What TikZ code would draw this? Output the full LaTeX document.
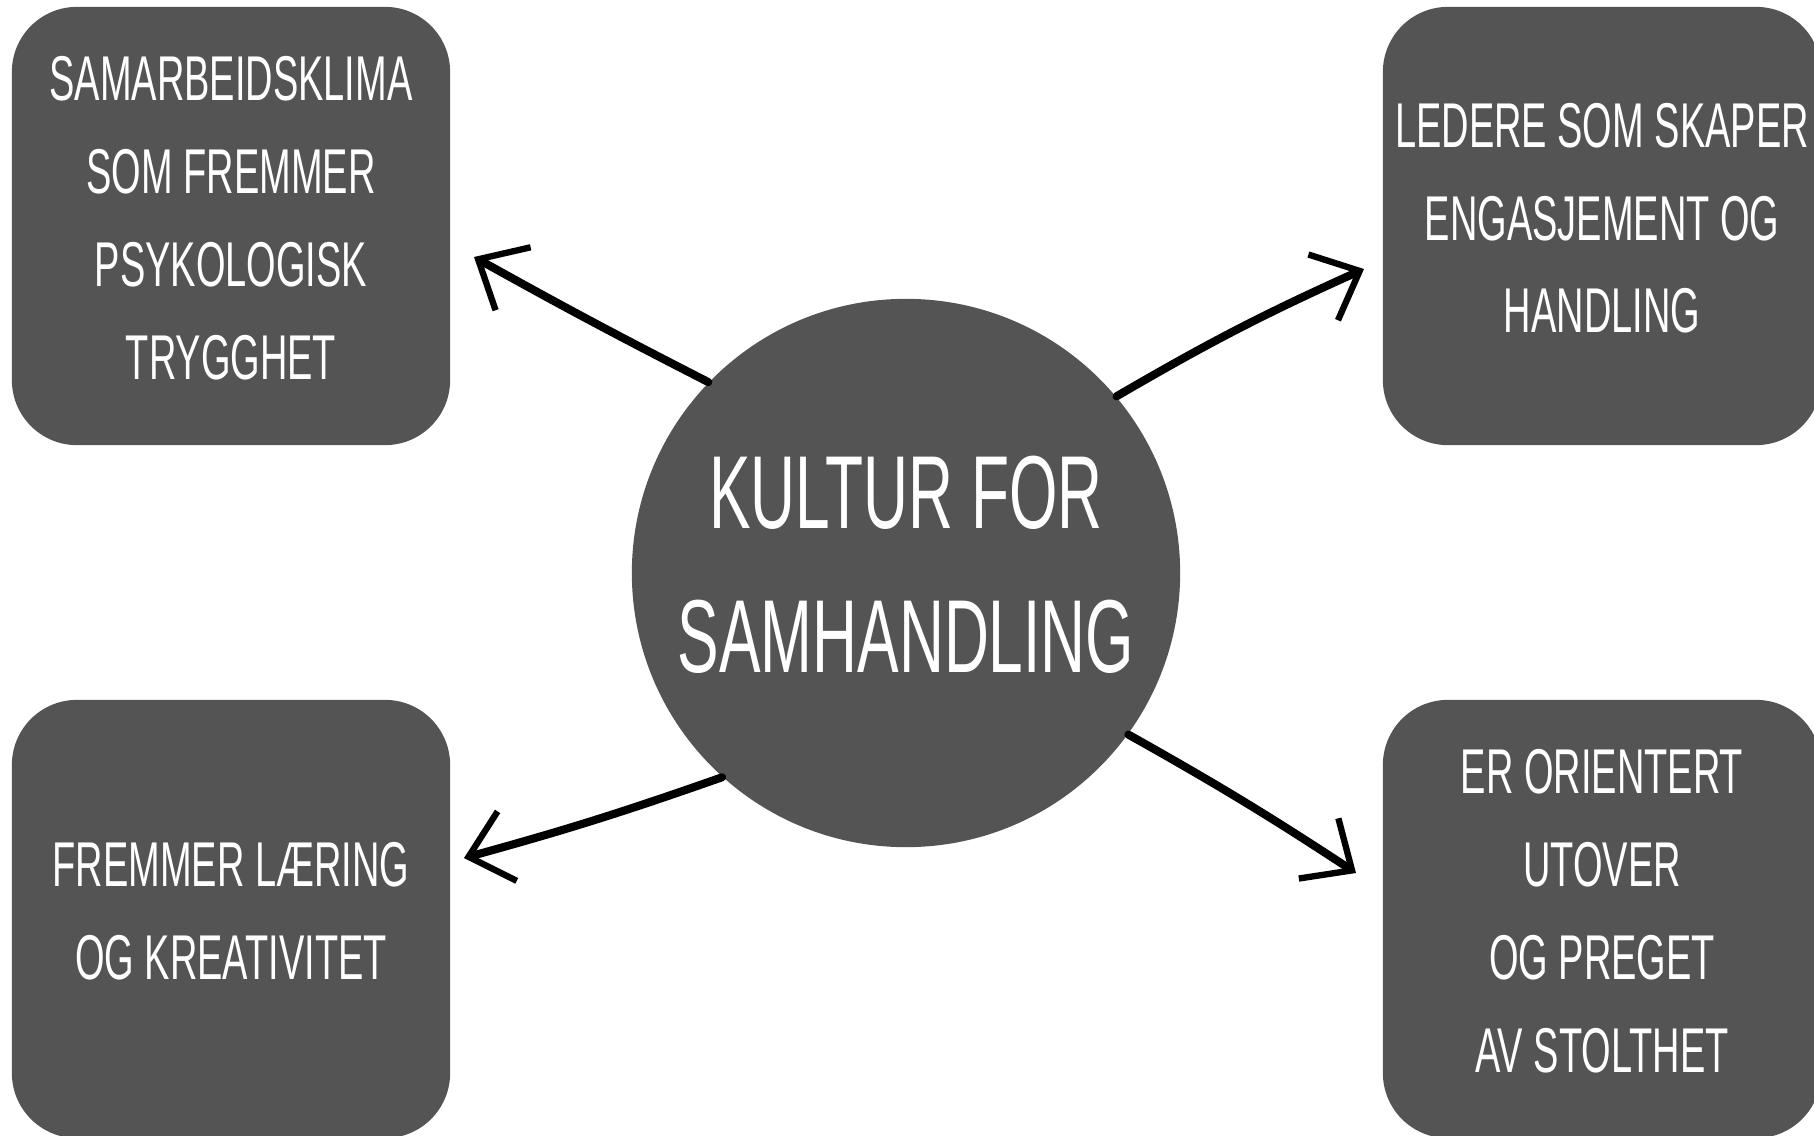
\documentclass[tikz,border=0pt]{standalone}
\usepackage{fontspec}
\setmainfont{Liberation Sans}[FakeStretch=0.6]
\usetikzlibrary{arrows.meta}
\definecolor{boxgray}{HTML}{545454}

\begin{document}
\begin{tikzpicture}[x=0.01cm, y=0.01cm,
    tema/.style={fill=boxgray, rounded corners=0.65cm, minimum width=4.38cm, minimum height=4.38cm,
      inner sep=0pt, text=white, align=center, text depth=0.16cm, font=\fontsize{18}{26.4}\selectfont},
    kjerne/.style={circle, fill=boxgray, minimum size=5.48cm, inner sep=0pt, text=white,
      align=center, text depth=0.18cm, font=\fontsize{29.5}{41}\selectfont},
    pil/.style={line width=2.3pt, line cap=round,
      -{Straight Barb[length=0.4cm, width=0.72cm, line width=1.8pt]}}]
    \useasboundingbox (0,0) rectangle (1814,1135);
    % midten
    \node [kjerne] (hub) at (906,562) {KULTUR FOR\\SAMHANDLING};
    % de fire boksene
    \node [tema] (klima) at (231,909) {SAMARBEIDSKLIMA\\SOM FREMMER\\PSYKOLOGISK\\TRYGGHET};
    \node [tema] (ledere) at (1602,909) {LEDERE SOM SKAPER\\ENGASJEMENT OG\\HANDLING};
    \node [tema] (laering) at (231,216) {FREMMER LÆRING\\OG KREATIVITET};
    \node [tema] (stolthet) at (1602,216) {ER ORIENTERT\\UTOVER\\OG PREGET\\AV STOLTHET};
    % pilspisser
    \coordinate (tklima) at (474,878);
    \coordinate (tledere) at (1364,866);
    \coordinate (tlaering) at (464,277);
    \coordinate (tstolthet) at (1356,262);
    \draw [pil] (hub.136) to[bend left=1] (tklima);
    \draw [pil] (hub.40) to[bend left=3] (tledere);
    \draw [pil] (hub.228) to[bend left=2] (tlaering);
    \draw [pil] (hub.324) to[bend left=2] (tstolthet);
\end{tikzpicture}
\end{document}
